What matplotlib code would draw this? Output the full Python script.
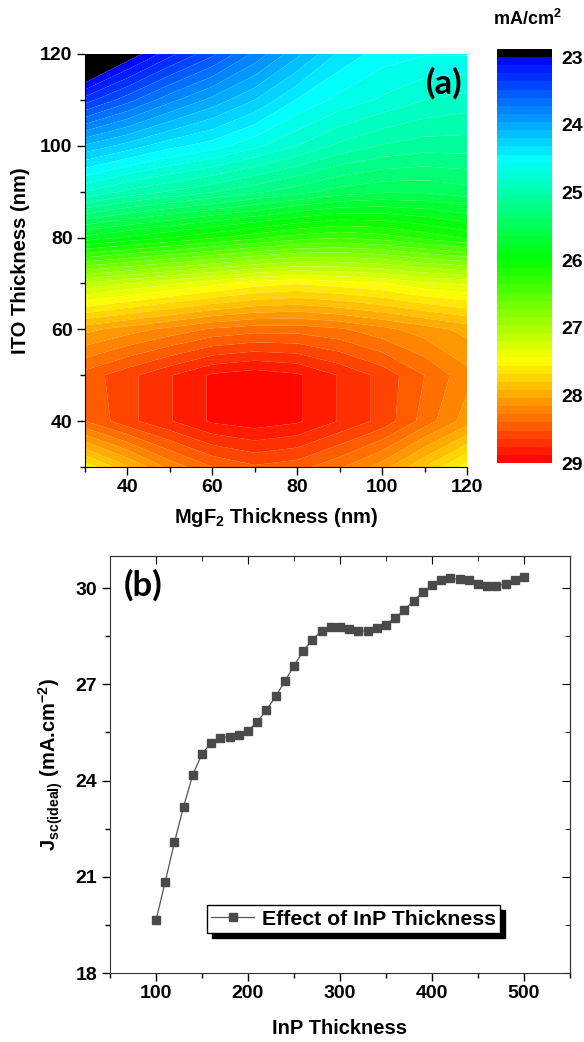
import numpy as np
import matplotlib
matplotlib.use("Agg")
import matplotlib.pyplot as plt
from matplotlib.colors import LinearSegmentedColormap
from matplotlib.ticker import MultipleLocator

plt.rcParams['font.family'] = ['Liberation Sans', 'DejaVu Sans']
plt.rcParams['font.weight'] = 'bold'
plt.rcParams['axes.labelweight'] = 'bold'
plt.rcParams['mathtext.fontset'] = 'custom'
plt.rcParams['mathtext.rm'] = 'Liberation Sans:bold'
plt.rcParams['mathtext.it'] = 'Liberation Sans:bold'
plt.rcParams['mathtext.bf'] = 'Liberation Sans:bold'

# ---------------- data: panel (a) ----------------
mgf2_nm = [30, 40, 50, 60, 70, 80, 90, 100, 110, 120]
ito_nm = [30, 40, 50, 60, 70, 80, 90, 100, 110, 120]
# rows follow ito_nm (bottom -> top), columns follow mgf2_nm
jsc_map = [
    [27.60, 27.90, 28.20, 28.40, 28.50, 28.45, 28.30, 28.10, 27.80, 27.50],
    [28.40, 28.60, 28.75, 28.90, 28.95, 28.90, 28.75, 28.60, 28.35, 28.10],
    [28.45, 28.60, 28.75, 28.90, 28.95, 28.90, 28.75, 28.60, 28.40, 28.20],
    [28.00, 28.10, 28.20, 28.30, 28.35, 28.35, 28.30, 28.20, 28.10, 28.00],
    [27.10, 27.20, 27.30, 27.40, 27.50, 27.55, 27.50, 27.45, 27.35, 27.30],
    [25.80, 25.90, 26.00, 26.10, 26.20, 26.30, 26.35, 26.30, 26.20, 26.10],
    [24.80, 24.95, 25.05, 25.15, 25.25, 25.35, 25.45, 25.50, 25.50, 25.45],
    [24.10, 24.25, 24.40, 24.50, 24.65, 24.80, 24.95, 25.05, 25.10, 25.10],
    [23.30, 23.55, 23.80, 24.00, 24.20, 24.45, 24.60, 24.70, 24.80, 24.85],
    [22.50, 22.90, 23.20, 23.45, 23.75, 24.05, 24.35, 24.50, 24.55, 24.55],
]
cbar_ticks = [23, 24, 25, 26, 27, 28, 29]

# ---------------- data: panel (b) ----------------
inp_nm = list(range(100, 501, 10))
jsc_ideal = [19.64, 20.84, 22.07, 23.19, 24.18, 24.83, 25.18, 25.34, 25.37, 25.41,
             25.55, 25.83, 26.19, 26.62, 27.09, 27.58, 28.04, 28.39, 28.66, 28.78,
             28.79, 28.73, 28.66, 28.66, 28.74, 28.86, 29.08, 29.32, 29.61, 29.87,
             30.09, 30.24, 30.30, 30.27, 30.24, 30.14, 30.08, 30.08, 30.12, 30.24,
             30.36]

W, H = 584, 1042
fig = plt.figure(figsize=(W / 100, H / 100), dpi=100)

def ax_rect(l, t, r, b):
    return [l / W, 1 - b / H, (r - l) / W, (b - t) / H]

TICK_FS = 14
LABEL_FS = 14.5

# ---------------- panel (a) ----------------
ax1 = fig.add_axes(ax_rect(85, 54, 467, 467))
cmap = LinearSegmentedColormap.from_list(
    'jsc', [(0.0, (0, 0, 1)), (0.25, (0, 1, 1)), (0.5, (0, 1, 0)),
            (0.75, (1, 1, 0)), (1.0, (1, 0, 0))])
nb = 50
levels = [21.0] + list(np.linspace(23, 29, nb + 1))
mids = (np.array(levels[1:-1]) + np.array(levels[2:])) / 2
colors = ['black'] + [cmap((m - 23) / 6) for m in mids]
X, Y = np.meshgrid(mgf2_nm, ito_nm)
cs = ax1.contourf(X, Y, np.array(jsc_map), levels=levels, colors=colors,
                  antialiased=True)
ax1.set_xlim(30, 120)
ax1.set_ylim(30, 120)
ax1.spines['top'].set_visible(False)
ax1.spines['right'].set_visible(False)
ax1.xaxis.set_minor_locator(MultipleLocator(10))
ax1.yaxis.set_minor_locator(MultipleLocator(10))
ax1.set_xticks([40, 60, 80, 100, 120])
ax1.set_yticks([40, 60, 80, 100, 120])
ax1.tick_params(which='major', direction='out', length=6, width=1, labelsize=TICK_FS, pad=3)
ax1.tick_params(which='minor', direction='out', length=3.5, width=1)
ax1.set_xlabel('MgF$_2$ Thickness (nm)', fontsize=LABEL_FS, labelpad=7)
ax1.set_ylabel('ITO Thickness (nm)', fontsize=LABEL_FS, labelpad=7)
ax1.text(0.987, 0.93, '(a)', transform=ax1.transAxes, ha='right', va='center',
         fontsize=25, fontweight='bold', family=['Lato', 'DejaVu Sans'])

cax = fig.add_axes(ax_rect(497, 49, 552, 463))
cb = fig.colorbar(cs, cax=cax)
cb.set_ticks(cbar_ticks)
cb.ax.invert_yaxis()
cb.outline.set_visible(False)
cb.ax.tick_params(length=0, labelsize=TICK_FS, pad=7)
fig.text(527 / W, 1 - 19 / H, 'mA/cm$^2$', ha='center', va='center', fontsize=13)

# ---------------- panel (b) ----------------
ax2 = fig.add_axes(ax_rect(110, 556, 570, 973))
ax2.plot(inp_nm, jsc_ideal, '-s', color='#555555', lw=0.9, ms=5.3,
         mfc='#4a4a4a', mec='#4a4a4a', label='Effect of InP Thickness')
ax2.set_xlim(50, 550)
ax2.set_ylim(18, 31)
ax2.set_xticks([100, 200, 300, 400, 500])
ax2.xaxis.set_minor_locator(MultipleLocator(50))
ax2.set_yticks([18, 21, 24, 27, 30])
ax2.yaxis.set_minor_locator(MultipleLocator(1.5))
ax2.tick_params(which='major', direction='out', length=6, width=1, labelsize=TICK_FS, pad=3)
ax2.tick_params(which='minor', direction='out', length=3.5, width=1)
for s in ax2.spines.values():
    s.set_color('#333333')
axt = ax2.secondary_xaxis('top')
axt.set_xticks([100, 200, 300, 400, 500])
axt.xaxis.set_minor_locator(MultipleLocator(50))
axt.tick_params(which='major', direction='in', length=6, labeltop=False)
axt.tick_params(which='minor', direction='in', length=3.5)
axr = ax2.secondary_yaxis('right')
axr.set_yticks([18, 21, 24, 27, 30])
axr.yaxis.set_minor_locator(MultipleLocator(1.5))
axr.tick_params(which='major', direction='in', length=6, labelright=False)
axr.tick_params(which='minor', direction='in', length=3.5)
ax2.set_xlabel('InP Thickness', fontsize=LABEL_FS, labelpad=12)
ax2.set_ylabel('J$_{sc(ideal)}$ (mA.cm$^{-2}$)', fontsize=LABEL_FS, labelpad=8)
ax2.text(0.03, 0.93, '(b)', transform=ax2.transAxes, ha='left', va='center',
         fontsize=25, fontweight='bold', family=['Lato', 'DejaVu Sans'])
leg = ax2.legend(loc='lower left', bbox_to_anchor=(0.211, 0.096),
                 prop={'weight': 'bold', 'size': 15.3,
                       'family': ['Liberation Sans', 'DejaVu Sans']},
                 frameon=True, fancybox=False, edgecolor='black',
                 shadow={'color': 'black', 'alpha': 1, 'ox': 3.3, 'oy': -3.3},
                 handlelength=2.0, borderpad=0.2, handletextpad=0.38,
                 borderaxespad=0)
leg.get_frame().set_linewidth(1.0)

fig.savefig('out.png', dpi=100)
